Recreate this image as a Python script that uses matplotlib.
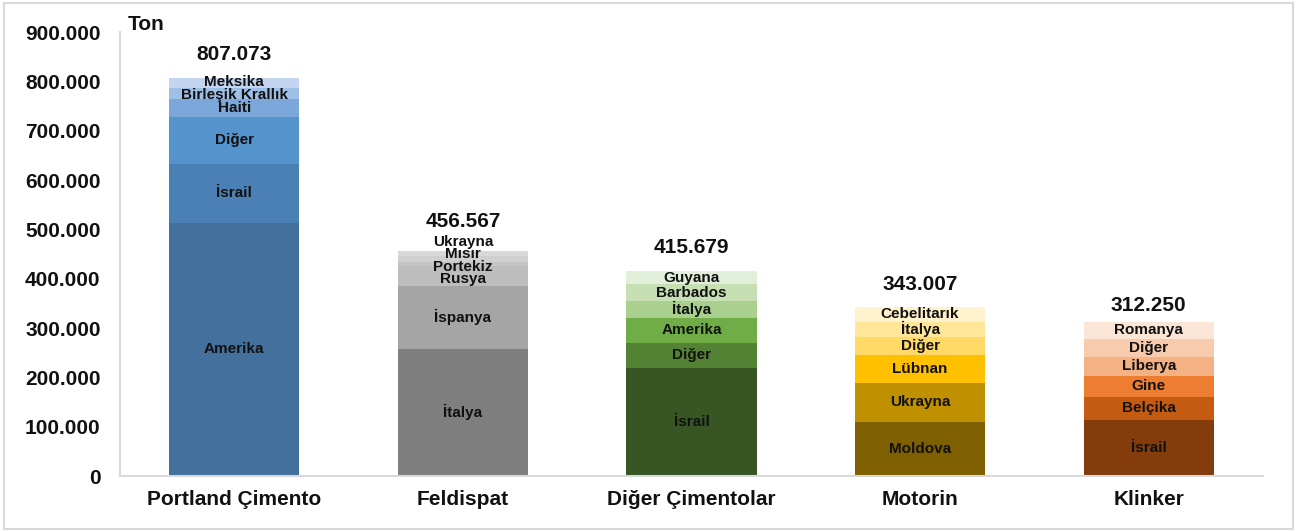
import numpy as np
import matplotlib
matplotlib.use('Agg')
import matplotlib.pyplot as plt
from matplotlib.patches import Rectangle

plt.rcParams['font.family'] = ['Liberation Sans', 'DejaVu Sans']
plt.rcParams['font.weight'] = 'bold'

categories = ['Portland Çimento', 'Feldispat', 'Diğer Çimentolar', 'Motorin', 'Klinker']
totals = [807073, 456567, 415679, 343007, 312250]

# segments bottom -> top (ton)
portland_names = ['Amerika', 'İsrail', 'Diğer', 'Haiti', 'Birleşik Krallık', 'Meksika']
portland_values = [513500, 119000, 96000, 36600, 21000, 20973]

feldispat_names = ['İtalya', 'İspanya', 'Rusya', 'Portekiz', 'Mısır', 'Ukrayna']
feldispat_values = [258000, 127000, 40000, 9000, 12000, 10567]

cimento_names = ['İsrail', 'Diğer', 'Amerika', 'İtalya', 'Barbados', 'Guyana']
cimento_values = [219500, 50700, 50700, 33800, 33800, 27179]

motorin_names = ['Moldova', 'Ukrayna', 'Lübnan', 'Diğer', 'İtalya', 'Cebelitarık']
motorin_values = [110000, 78000, 57300, 37000, 30400, 30307]

klinker_names = ['İsrail', 'Belçika', 'Gine', 'Liberya', 'Diğer', 'Romanya']
klinker_values = [113500, 47300, 42500, 38500, 35900, 34550]

names = [portland_names, feldispat_names, cimento_names, motorin_names, klinker_names]
values = [portland_values, feldispat_values, cimento_values, motorin_values, klinker_values]

colors = [
    ['#43709c', '#4b80b5', '#5593cd', '#7ca7db', '#a0bfe6', '#c3d5ef'],
    ['#7f7f7f', '#a5a5a5', '#bdbdbd', '#c4c4c4', '#d0d0d0', '#d9d9d9'],
    ['#375623', '#548235', '#70ad47', '#a9d08e', '#c6e0b4', '#e2efda'],
    ['#7f6000', '#bf9000', '#ffc000', '#ffd966', '#ffe699', '#fff2cc'],
    ['#843c0c', '#c55a11', '#ed7d31', '#f4b183', '#f8cbad', '#fbe5d6'],
]

# hand-moved labels on thin segments (shift from segment centre, ton)
label_shift = {(0, 4): -2500, (0, 5): 3000,
               (1, 2): -6000, (1, 3): -5000, (1, 4): 11000, (1, 5): 24000}
# gap between bar top and total label (points)
total_pad = [10, 14, 10, 9, 5]


def fmt(v):
    return f'{v:,.0f}'.replace(',', '.')


fig = plt.figure(figsize=(13.01, 5.31), dpi=100)
fig.patches.append(Rectangle((4 / 1301, 2 / 531), 1289 / 1301, 526 / 531,
                             transform=fig.transFigure, fill=False,
                             edgecolor='#d9d9d9', lw=1.5))
ax = fig.add_axes([120 / 1301, 55 / 531, 1143 / 1301, 444 / 531])

x = np.arange(len(categories))
w = 0.57
for i in range(len(categories)):
    bottom = 0
    for j, (nm, v) in enumerate(zip(names[i], values[i])):
        ax.bar(x[i], v, w, bottom=bottom, color=colors[i][j], edgecolor='none')
        yc = bottom + v / 2 + label_shift.get((i, j), 0)
        ax.text(x[i], yc, nm, ha='center', va='center', fontsize=11,
                fontweight='bold', color='#111111')
        bottom += v
    ax.annotate(fmt(totals[i]), (x[i], totals[i]), xytext=(0, total_pad[i]),
                textcoords='offset points', ha='center', va='bottom',
                fontsize=15, fontweight='bold', color='#111111')

ax.set_xlim(-0.5, len(categories) - 0.5)
ax.set_ylim(0, 900000)
ax.set_yticks(np.arange(0, 900001, 100000))
ax.set_yticklabels([fmt(t) for t in np.arange(0, 900001, 100000)])
ax.set_xticks(x)
ax.set_xticklabels(categories)
ax.tick_params(axis='y', length=0, pad=14, labelsize=15, labelcolor='#111111')
ax.tick_params(axis='x', length=0, pad=10, labelsize=15, labelcolor='#111111')
for lab in ax.get_xticklabels() + ax.get_yticklabels():
    lab.set_fontweight('bold')
for s in ['top', 'right']:
    ax.spines[s].set_visible(False)
for s in ['left', 'bottom']:
    ax.spines[s].set_color('#d9d9d9')
    ax.spines[s].set_linewidth(1.5)

fig.text(128 / 1301, 1 - 25 / 531, 'Ton', ha='left', va='center',
         fontsize=15, fontweight='bold', color='#111111')

fig.savefig('out.png', dpi=100)
